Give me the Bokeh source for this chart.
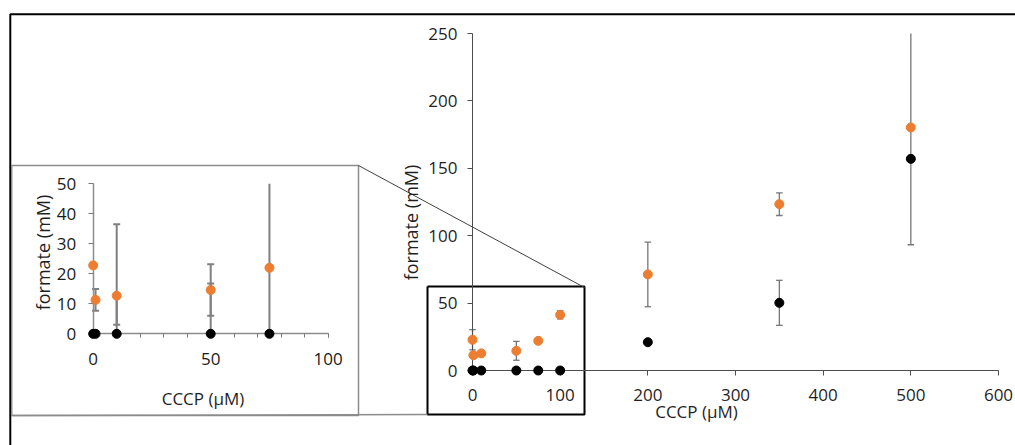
import numpy as np
from bokeh.plotting import figure
from bokeh.models import Range1d, LinearAxis, FixedTicker, Label
from bokeh.embed import file_html
from bokeh.resources import INLINE

# ---------------- data ----------------
cccp = [0, 1, 10, 50, 75, 100, 200, 350, 500]
formate_orange = [22.8, 11.3, 12.7, 14.6, 22.0, 41.3, 71.3, 123.4, 180.3]
formate_black = [0, 0, 0, 0, 0, 0, 21.0, 50.2, 157.0]
err_orange = [7.5, 0, 0, 7.0, 0, 3.0, 24.0, 8.4, 87.0]
err_black = [0, 0, 0, 0, 0, 0, 0, 16.7, 0]

inset_cccp = [0, 1, 10, 50, 75]
inset_orange = [22.8, 11.3, 12.7, 14.6, 22.0]
inset_black = [0, 0, 0, 0, 0]
inset_orange_err_minus = [0, 3.6, 9.7, 8.6, 0]
inset_orange_err_plus = [0, 3.6, 0, 8.6, 0]
inset_black_err_plus = [0, 0, 36.5, 16.8, 60.0]

main_x_ticks = [0, 100, 200, 300, 400, 500, 600]
main_y_ticks = [0, 50, 100, 150, 200, 250]
inset_x_ticks = [0, 50, 100]
inset_x_minor = [0, 10, 20, 30, 40, 50, 60, 70, 80, 90, 100]
inset_y_ticks = [0, 10, 20, 30, 40, 50]

x_title = "CCCP (µM)"
y_title = "formate (mM)"

# ---------------- layout (page pixels) ----------------
W, H = 1015, 445
OFF = 0
MAIN_X = (472, 998, 0, 600)
MAIN_Y = (370, 33, 0, 250)
INS_X = (92.7, 327.7, 0, 100)
INS_Y = (333.3, 183.3, 0, 50)

def make_range(p0, p1, v0, v1, size):
    s = (p1 - p0) / (v1 - v0)
    a = v0 + (OFF - p0) / s
    b = v0 + (OFF + size - p0) / s
    return (a, b) if s > 0 else (b, a)

mx_rng = make_range(*MAIN_X, W)
my_rng = make_range(*MAIN_Y, H)
ix_rng = make_range(*INS_X, W)
iy_rng = make_range(*INS_Y, H)

def mxp(px):
    p0, p1, v0, v1 = MAIN_X
    return v0 + (px - p0) * (v1 - v0) / (p1 - p0)

def myp(py):
    p0, p1, v0, v1 = MAIN_Y
    return v0 + (py - p0) * (v1 - v0) / (p1 - p0)

FONT = "Open Sans"
FS = "17px"
ORANGE = "#ED7D31"

p = figure(width=W, height=H, output_backend="svg", toolbar_location=None,
           x_range=Range1d(*mx_rng), y_range=Range1d(*my_rng),
           x_axis_type=None, y_axis_type=None, min_border=0)
p.outline_line_color = None
p.background_fill_color = "white"
p.border_fill_color = "white"
p.extra_x_ranges = {"inset": Range1d(*ix_rng)}
p.extra_y_ranges = {"inset": Range1d(*iy_rng)}

# ---------------- decorations ----------------
p.line([mxp(9.8), mxp(9.8), mxp(1030)], [myp(460), myp(13.7), myp(13.7)],
       line_color="black", line_width=2)
p.line([mxp(11.2), mxp(358), mxp(358), mxp(11.2), mxp(11.2)],
       [myp(165), myp(165), myp(415), myp(415), myp(165)],
       line_color="#8c8c8c", line_width=1.5)
p.line([mxp(427), mxp(584), mxp(584), mxp(427), mxp(427)],
       [myp(286), myp(286), myp(414), myp(414), myp(286)],
       line_color="black", line_width=2)
p.line([mxp(358), mxp(584)], [myp(165), myp(287)], line_color="#404040", line_width=1)
p.line([mxp(11.2), mxp(427)], [myp(415), myp(414)], line_color="#8c8c8c", line_width=1.5)

# ---------------- error bars helper ----------------
def errbars(xs, ys, minus, plus, ymax, color, lw, cap, **rn):
    sx, sy0, sy1, cx, cy = [], [], [], [], []
    for x, y, m, pl in zip(xs, ys, minus, plus):
        if m == 0 and pl == 0:
            continue
        lo = y - m
        hi = y + pl
        top = min(hi, ymax)
        sx.append(x); sy0.append(lo); sy1.append(top)
        if m > 0:
            cx.append(x); cy.append(lo)
        if pl > 0 and hi <= ymax:
            cx.append(x); cy.append(hi)
    p.segment(x0=sx, y0=sy0, x1=sx, y1=sy1, line_color=color, line_width=lw, **rn)
    p.scatter(cx, cy, marker="dash", size=cap, line_color=color, line_width=lw, **rn)

errbars(cccp, formate_orange, err_orange, err_orange, 250, "#777777", 1.3, 6.5)
errbars(cccp, formate_black, err_black, err_black, 250, "#777777", 1.3, 6.5)

rn = dict(x_range_name="inset", y_range_name="inset")
errbars(inset_cccp, inset_orange, inset_orange_err_minus, inset_orange_err_plus, 50,
        "#808080", 2, 7, **rn)
errbars(inset_cccp, inset_black, [0] * 5, inset_black_err_plus, 50,
        "#808080", 2, 7, **rn)

# ---------------- axes ----------------
def style_axis(ax, line_color, tick_color, label_color, standoff, tick_out=5):
    ax.axis_line_color = line_color
    ax.major_tick_line_color = tick_color
    ax.minor_tick_line_color = tick_color
    ax.major_tick_out = tick_out
    ax.major_tick_in = 0
    ax.minor_tick_out = tick_out
    ax.minor_tick_in = 0
    ax.major_label_text_font = FONT
    ax.major_label_text_font_size = FS
    ax.major_label_text_color = label_color
    ax.major_label_standoff = standoff

ax = LinearAxis(fixed_location=0, bounds=(0, 600), ticker=FixedTicker(ticks=main_x_ticks))
style_axis(ax, "#4d4d4d", "#4d4d4d", "#1f1f1f", 13)
p.add_layout(ax, "below")

ay = LinearAxis(fixed_location=0, bounds=(0, 250), ticker=FixedTicker(ticks=main_y_ticks))
style_axis(ay, "#4d4d4d", "#4d4d4d", "#1f1f1f", 10)
p.add_layout(ay, "left")

iax = LinearAxis(fixed_location=0, bounds=(0, 100),
                 ticker=FixedTicker(ticks=inset_x_ticks, minor_ticks=inset_x_minor), **rn)
style_axis(iax, "#8c8c8c", "#7a7a7a", "#1a1a1a", 15, 4)
iax.axis_line_width = 1.5
p.add_layout(iax, "below")

iay = LinearAxis(fixed_location=0, bounds=(0, 50),
                 ticker=FixedTicker(ticks=inset_y_ticks, minor_ticks=[]), **rn)
style_axis(iay, "#8c8c8c", "#7a7a7a", "#1a1a1a", 12, 5)
iay.axis_line_width = 1.5
p.add_layout(iay, "left")

# ---------------- points ----------------
r1 = p.scatter(cccp, formate_orange, size=9, fill_color=ORANGE, line_color=ORANGE)
r2 = p.scatter(cccp, formate_black, size=9, fill_color="black", line_color="black")
r3 = p.scatter(inset_cccp, inset_orange, size=9, fill_color=ORANGE, line_color=ORANGE, **rn)
r4 = p.scatter(inset_cccp, inset_black, size=9, fill_color="black", line_color="black", **rn)
for r in (r1, r2, r3, r4):
    r.level = "overlay"

# ---------------- titles ----------------
def title(txt, px, py, angle=0.0, fs="17px"):
    p.add_layout(Label(x=mxp(px), y=myp(py), text=txt, angle=angle,
                       text_font=FONT, text_font_size=fs, text_color="#1f1f1f",
                       text_align="center", text_baseline="middle"))

title(x_title, 696, 410.5)
title(y_title, 410, 222, np.pi / 2, "18px")
title(x_title, 202.5, 398)
title(y_title, 42.5, 252, np.pi / 2, "18px")

open("out.html", "w").write(file_html(p, INLINE))
